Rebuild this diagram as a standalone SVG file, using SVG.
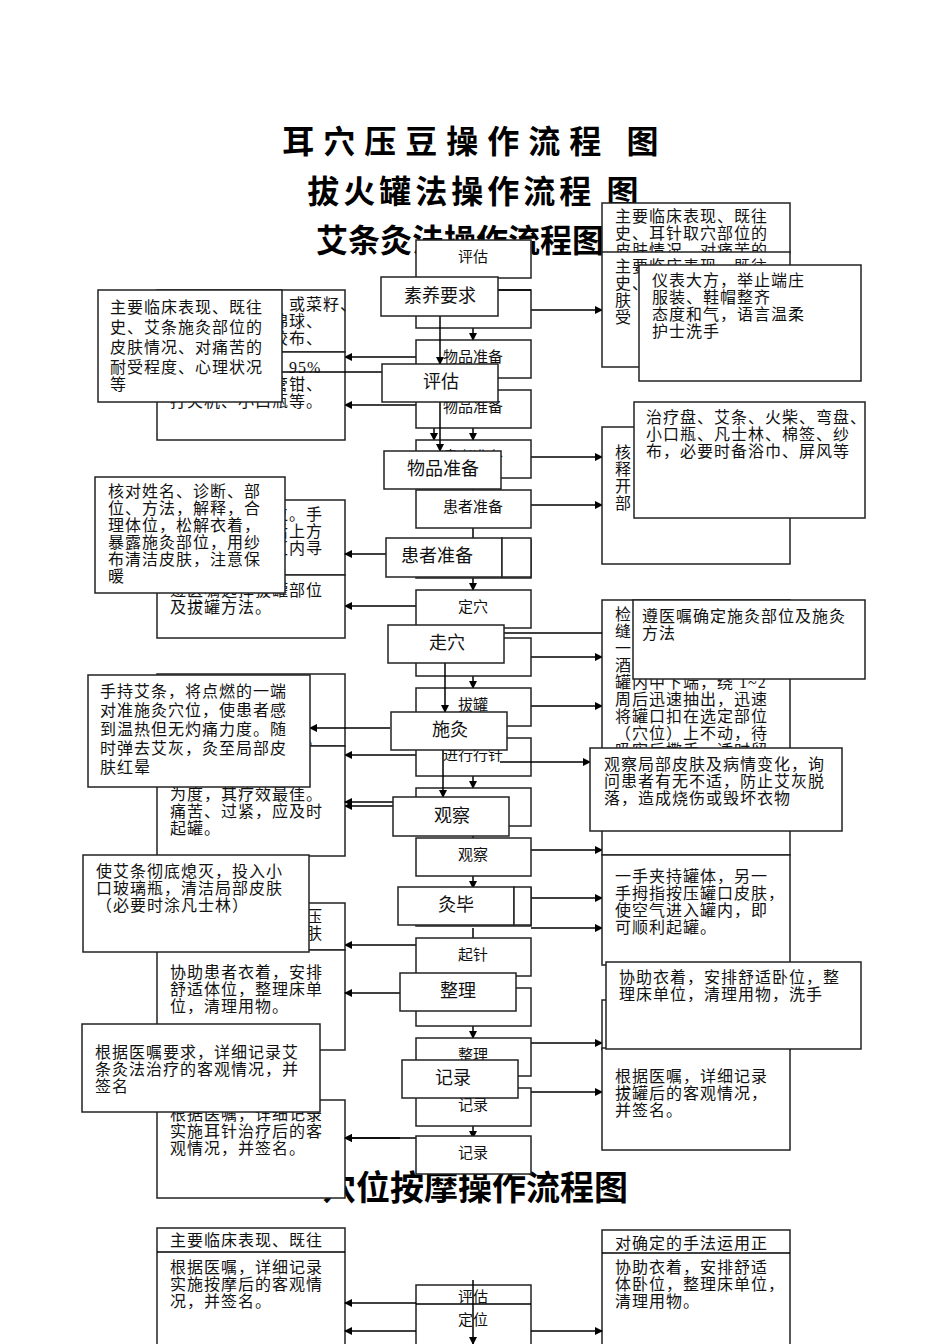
<svg xmlns="http://www.w3.org/2000/svg" width="950" height="1344" viewBox="0 0 950 1344">
<defs>
<marker id="ah" markerWidth="8" markerHeight="8" refX="7" refY="4" orient="auto" markerUnits="userSpaceOnUse"><path d="M0,0 L8,4 L0,8 z" fill="#000"/></marker>
<style>
rect{fill:#fff;stroke:#222;stroke-width:1.5}
.t{font-family:"Liberation Serif","Noto Sans CJK SC",serif;font-size:16px;letter-spacing:1px;fill:#111}
.c{font-family:"Noto Sans CJK SC",sans-serif;font-size:15px;fill:#111;text-anchor:middle}
.f{font-family:"Noto Sans CJK SC",sans-serif;font-size:18px;fill:#111;text-anchor:middle}
.h{font-family:"Noto Sans CJK SC",sans-serif;font-size:32px;font-weight:bold;fill:#000;text-anchor:middle}
line,path.l{stroke:#000;stroke-width:1.5;fill:none}
.a{marker-end:url(#ah)}
</style>
</defs>
<rect x="0" y="0" width="950" height="1344" style="fill:#fff;stroke:none"/>
<g id="titles">
<text class="h" x="475" y="153" letter-spacing="9">耳穴压豆操作流程 图</text>
<text class="h" x="475" y="203" letter-spacing="4">拔火罐法操作流程 图</text>
<text class="h" x="460" y="252">艾条灸法操作流程图</text>
<text class="h" x="475" y="1200" style="font-size:34px">穴位按摩操作流程图</text>
</g>
<g id="connectors-back">
<line class="a" x1="473" y1="278" x2="473" y2="340"/>
<line class="a" x1="473" y1="378" x2="473" y2="440"/>
<line class="a" x1="434" y1="378" x2="434" y2="440"/>
<line class="a" x1="473" y1="478" x2="473" y2="590"/>
<line class="a" x1="473" y1="628" x2="473" y2="688"/>
<line class="a" x1="473" y1="728" x2="473" y2="788"/>
<line class="a" x1="473" y1="828" x2="473" y2="888"/>
<line class="a" x1="473" y1="928" x2="473" y2="1038"/>
<line class="a" x1="473" y1="1078" x2="473" y2="1138"/>
<line class="a" x1="416" y1="357" x2="345" y2="357"/>
<line class="a" x1="416" y1="405" x2="345" y2="405"/>
<line class="a" x1="416" y1="606" x2="345" y2="606"/>
<line class="a" x1="416" y1="755" x2="345" y2="755"/>
<line class="a" x1="416" y1="806" x2="345" y2="806"/>
<line class="a" x1="416" y1="945" x2="345" y2="945"/>
<line class="a" x1="416" y1="1138" x2="345" y2="1138"/>
<line class="a" x1="531" y1="310" x2="602" y2="310"/>
<line class="a" x1="531" y1="457" x2="602" y2="457"/>
<line class="a" x1="531" y1="505" x2="602" y2="505"/>
<line class="a" x1="531" y1="657" x2="602" y2="657"/>
<line class="a" x1="531" y1="706" x2="602" y2="706"/>
<line class="a" x1="531" y1="850" x2="602" y2="850"/>
<line class="a" x1="531" y1="898" x2="602" y2="898"/>
<line class="a" x1="531" y1="928" x2="602" y2="928"/>
<line class="a" x1="531" y1="1043" x2="602" y2="1043"/>
<line class="a" x1="531" y1="1092" x2="602" y2="1092"/>
</g>
<g id="center-back">
<rect x="416" y="240" width="115" height="38"/><text class="c" x="473" y="262">评估</text>
<rect x="416" y="290" width="115" height="38"/>
<rect x="416" y="340" width="115" height="38"/><text class="c" x="473" y="362">物品准备</text>
<rect x="416" y="390" width="115" height="38"/><text class="c" x="473" y="412">物品准备</text>
<rect x="416" y="440" width="115" height="38"/><text class="c" x="473" y="462">患者准备</text>
<rect x="416" y="490" width="115" height="38"/><text class="c" x="473" y="512">患者准备</text>
<rect x="416" y="540" width="115" height="38"/>
<rect x="416" y="590" width="115" height="38"/><text class="c" x="473" y="612">定穴</text>
<rect x="416" y="638" width="115" height="38"/>
<rect x="416" y="688" width="115" height="38"/><text class="c" x="473" y="710">拔罐</text>
<rect x="416" y="738" width="115" height="38"/><text class="c" x="473" y="760">进行行针</text>
<rect x="416" y="788" width="115" height="38"/><text class="c" x="473" y="810">观察</text>
<rect x="416" y="838" width="115" height="38"/><text class="c" x="473" y="860">观察</text>
<rect x="416" y="888" width="115" height="38"/>
<rect x="416" y="938" width="115" height="38"/><text class="c" x="473" y="960">起针</text>
<rect x="416" y="988" width="115" height="38"/>
<rect x="416" y="1038" width="115" height="38"/><text class="c" x="473" y="1060">整理</text>
<rect x="416" y="1088" width="115" height="38"/><text class="c" x="473" y="1110">记录</text>
<rect x="416" y="1136" width="115" height="38"/><text class="c" x="473" y="1158">记录</text>
</g>
<g id="left-back">
<rect x="157" y="290" width="188" height="62"/><text class="t" x="170" y="310"><tspan x="170">主要临床表现、或菜籽、</tspan><tspan x="170" dy="17">　　　　　　棉球、</tspan><tspan x="170" dy="17">　　　　　　胶布、</tspan></text>
<rect x="157" y="352" width="188" height="88"/><text class="t" x="170" y="373"><tspan x="170">　　　　　　、95%</tspan><tspan x="170" dy="17">　　　　　　管钳、</tspan><tspan x="170" dy="17">打火机、小口瓶等。</tspan></text>
<rect x="157" y="500" width="188" height="75"/><text class="t" x="170" y="520"><tspan x="170">　　　　　　位。手</tspan><tspan x="170" dy="17">　　　　　　后上方</tspan><tspan x="170" dy="17">　　　　　　区内寻</tspan></text>
<rect x="157" y="575" width="188" height="63"/><text class="t" x="170" y="596"><tspan x="170">遵医嘱选择拔罐部位</tspan><tspan x="170" dy="17">及拔罐方法。</tspan></text>
<rect x="157" y="674" width="188" height="72"/><text class="t" x="170" y="694"><tspan x="170">　　　　　　　耳</tspan><tspan x="170" dy="17">　　　　　　　准</tspan><tspan x="170" dy="17">　　　　　　　刺</tspan><tspan x="170" dy="17">　　　　　　　度。</tspan></text>
<rect x="157" y="746" width="188" height="110"/><text class="t" x="170" y="766"><tspan x="170">　　　　　　　情</tspan><tspan x="170" dy="17">　　　　　　　色</tspan><tspan x="170" dy="17">为度，其疗效最佳。</tspan><tspan x="170" dy="17">痛苦、过紧，应及时</tspan><tspan x="170" dy="17">起罐。</tspan></text>
<rect x="157" y="903" width="188" height="47"/><text class="t" x="170" y="922"><tspan x="170">　　　　　　　按压</tspan><tspan x="170" dy="17">　　　　　　　皮肤</tspan></text>
<rect x="157" y="950" width="188" height="100"/><text class="t" x="170" y="978"><tspan x="170">协助患者衣着，安排</tspan><tspan x="170" dy="17">舒适体位，整理床单</tspan><tspan x="170" dy="17">位，清理用物。</tspan></text>
<rect x="157" y="1100" width="188" height="98"/><text class="t" x="170" y="1120"><tspan x="170">根据医嘱，详细记录</tspan><tspan x="170" dy="17">实施耳针治疗后的客</tspan><tspan x="170" dy="17">观情况，并签名。</tspan></text>
</g>
<g id="right-back">
<rect x="602" y="203" width="188" height="50"/><text class="t" x="615" y="222"><tspan x="615">主要临床表现、既往</tspan><tspan x="615" dy="17">史、耳针取穴部位的</tspan><tspan x="615" dy="17">皮肤情况、对痛苦的</tspan></text>
<rect x="602" y="252" width="188" height="115"/><text class="t" x="615" y="272"><tspan x="615">主要临床表现、既往</tspan><tspan x="615" dy="17">史、</tspan><tspan x="615" dy="17">肤</tspan><tspan x="615" dy="17">受</tspan></text>
<rect x="602" y="427" width="188" height="137"/><text class="t" x="615" y="458"><tspan x="615">核</tspan><tspan x="615" dy="17">释</tspan><tspan x="615" dy="17">开</tspan><tspan x="615" dy="17">部</tspan></text>
<rect x="602" y="600" width="188" height="255"/><text class="t" x="615" y="620"><tspan x="615">检</tspan><tspan x="615" dy="17">缝</tspan><tspan x="615" dy="17">一</tspan><tspan x="615" dy="17">酒</tspan><tspan x="615" dy="17">罐内中下端，绕 1~2</tspan><tspan x="615" dy="17">周后迅速抽出，迅速</tspan><tspan x="615" dy="17">将罐口扣在选定部位</tspan><tspan x="615" dy="17">（穴位）上不动，待</tspan><tspan x="615" dy="17">吸牢后撒手。适时留</tspan><tspan x="615" dy="17"> </tspan><tspan x="615" dy="17"> </tspan><tspan x="615" dy="17">患者是否晕针、痛苦</tspan><tspan x="615" dy="17">等不适情况。</tspan></text>
<rect x="602" y="855" width="188" height="110"/><text class="t" x="615" y="882"><tspan x="615">一手夹持罐体，另一</tspan><tspan x="615" dy="17">手拇指按压罐口皮肤，</tspan><tspan x="615" dy="17">使空气进入罐内，即</tspan><tspan x="615" dy="17">可顺利起罐。</tspan></text>
<rect x="602" y="1000" width="188" height="50"/><text class="t" x="615" y="1046">事项。整理床单位，</text>
<rect x="602" y="1048" width="188" height="102"/><text class="t" x="615" y="1082"><tspan x="615">根据医嘱，详细记录</tspan><tspan x="615" dy="17">拔罐后的客观情况，</tspan><tspan x="615" dy="17">并签名。</tspan></text>
</g>
<g id="connectors-front">
<line class="a" x1="440" y1="316" x2="440" y2="364"/>
<line class="a" x1="440" y1="402" x2="440" y2="451"/>
<line class="a" x1="445" y1="663" x2="445" y2="712"/>
<line class="a" x1="443" y1="750" x2="443" y2="797"/>
<line class="a" x1="390" y1="728" x2="310" y2="728"/>
<line class="a" x1="393" y1="802" x2="345" y2="802"/>
<line class="a" x1="400" y1="993" x2="345" y2="993"/>
<line class="a" x1="400" y1="1138" x2="345" y2="1138"/>
<line class="a" x1="386" y1="554" x2="345" y2="554"/>
<line x1="498" y1="290" x2="531" y2="290"/>
<line class="a" x1="500" y1="762" x2="590" y2="762"/>
<line x1="504" y1="633" x2="602" y2="633"/>
<line x1="282" y1="372" x2="382" y2="372"/>
</g>
<g id="center-front">
<rect x="381" y="277" width="117" height="39"/><text class="f" x="440" y="302">素养要求</text>
<rect x="382" y="364" width="116" height="38"/><text class="f" x="441" y="388">评估</text>
<rect x="384" y="451" width="117" height="38"/><text class="f" x="443" y="475">物品准备</text>
<rect x="386" y="538" width="116" height="39"/><rect x="502" y="538" width="29" height="39"/><text class="f" x="437" y="562">患者准备</text>
<rect x="388" y="625" width="116" height="38"/><text class="f" x="447" y="649">走穴</text>
<rect x="391" y="712" width="116" height="38"/><text class="f" x="450" y="736">施灸</text>
<rect x="393" y="797" width="116" height="39"/><text class="f" x="452" y="822">观察</text>
<rect x="398" y="887" width="116" height="38"/><rect x="514" y="887" width="17" height="38"/><text class="f" x="456" y="911">灸毕</text>
<rect x="400" y="973" width="116" height="38"/><text class="f" x="458" y="997">整理</text>
<rect x="402" y="1060" width="116" height="38"/><text class="f" x="453" y="1084">记录</text>
</g>
<g id="left-front">
<rect x="98" y="290" width="184" height="112"/><text class="t" x="110" y="313"><tspan x="110">主要临床表现、既往</tspan><tspan x="110" dy="20">史、艾条施灸部位的</tspan><tspan x="110" dy="20">皮肤情况、对痛苦的</tspan><tspan x="110" dy="20">耐受程度、心理状况</tspan><tspan x="110" dy="17">等</tspan></text>
<rect x="95" y="477" width="190" height="116"/><text class="t" x="108" y="497"><tspan x="108">核对姓名、诊断、部</tspan><tspan x="108" dy="17">位、方法，解释，合</tspan><tspan x="108" dy="17">理体位，松解衣着，</tspan><tspan x="108" dy="17">暴露施灸部位，用纱</tspan><tspan x="108" dy="17">布清洁皮肤，注意保</tspan><tspan x="108" dy="17">暖</tspan></text>
<rect x="88" y="675" width="222" height="112"/><text class="t" x="100" y="697"><tspan x="100">手持艾条，将点燃的一端</tspan><tspan x="100" dy="19">对准施灸穴位，使患者感</tspan><tspan x="100" dy="19">到温热但无灼痛力度。随</tspan><tspan x="100" dy="19">时弹去艾灰，灸至局部皮</tspan><tspan x="100" dy="19">肤红晕</tspan></text>
<rect x="83" y="855" width="226" height="97"/><text class="t" x="96" y="877"><tspan x="96">使艾条彻底熄灭，投入小</tspan><tspan x="96" dy="17">口玻璃瓶，清洁局部皮肤</tspan><tspan x="96" dy="17">（必要时涂凡士林）</tspan></text>
<rect x="82" y="1024" width="238" height="88"/><text class="t" x="95" y="1058"><tspan x="95">根据医嘱要求，详细记录艾</tspan><tspan x="95" dy="17">条灸法治疗的客观情况，并</tspan><tspan x="95" dy="17">签名</tspan></text>
</g>
<g id="right-front">
<rect x="639" y="265" width="222" height="116"/><text class="t" x="652" y="286"><tspan x="652">仪表大方，举止端庄</tspan><tspan x="652" dy="17">服装、鞋帽整齐</tspan><tspan x="652" dy="17">态度和气，语言温柔</tspan><tspan x="652" dy="17">护士洗手</tspan></text>
<rect x="634" y="402" width="231" height="116"/><text class="t" x="646" y="423"><tspan x="646">治疗盘、艾条、火柴、弯盘、</tspan><tspan x="646" dy="17">小口瓶、凡士林、棉签、纱</tspan><tspan x="646" dy="17">布，必要时备浴巾、屏风等</tspan></text>
<rect x="633" y="600" width="232" height="79"/><text class="t" x="642" y="622"><tspan x="642">遵医嘱确定施灸部位及施灸</tspan><tspan x="642" dy="17">方法</tspan></text>
<rect x="590" y="748" width="252" height="83"/><text class="t" x="604" y="770"><tspan x="604">观察局部皮肤及病情变化，询</tspan><tspan x="604" dy="17">问患者有无不适，防止艾灰脱</tspan><tspan x="604" dy="17">落，造成烧伤或毁坏衣物</tspan></text>
<rect x="606" y="962" width="255" height="87"/><text class="t" x="619" y="983"><tspan x="619">协助衣着，安排舒适卧位，整</tspan><tspan x="619" dy="17">理床单位，清理用物，洗手</tspan></text>
</g>
<g id="massage">
<rect x="157" y="1228" width="188" height="130"/><line x1="157" y1="1252" x2="345" y2="1252"/>
<text class="t" x="170" y="1246">主要临床表现、既往</text>
<text class="t" x="170" y="1273"><tspan x="170">根据医嘱，详细记录</tspan><tspan x="170" dy="17">实施按摩后的客观情</tspan><tspan x="170" dy="17">况，并签名。</tspan></text>
<rect x="602" y="1230" width="188" height="130"/><line x1="602" y1="1253" x2="790" y2="1253"/>
<text class="t" x="615" y="1249">对确定的手法运用正</text>
<text class="t" x="615" y="1273"><tspan x="615">协助衣着，安排舒适</tspan><tspan x="615" dy="17">体卧位，整理床单位，</tspan><tspan x="615" dy="17">清理用物。</tspan></text>
<rect x="416" y="1285" width="115" height="70"/><line x1="416" y1="1304" x2="531" y2="1304"/>
<text class="c" x="473" y="1302">评估</text><text class="c" x="473" y="1325">定位</text>
<line class="a" x1="473" y1="1280" x2="473" y2="1344"/>
<line class="a" x1="416" y1="1303" x2="345" y2="1303"/>
<line class="a" x1="416" y1="1331" x2="345" y2="1331"/>
<line class="a" x1="531" y1="1331" x2="602" y2="1331"/>
</g>
</svg>
